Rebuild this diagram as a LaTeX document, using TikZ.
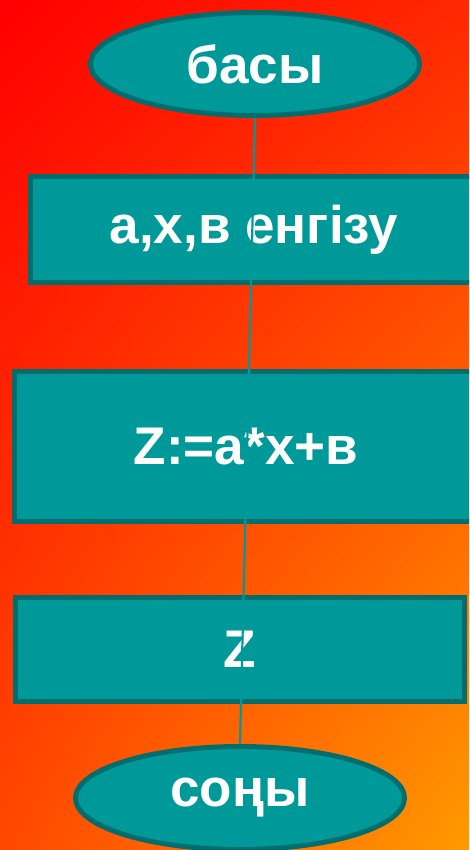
\documentclass[tikz,border=0pt]{standalone}
\usepackage{fontspec}
\setmainfont{Liberation Sans}
\usetikzlibrary{shapes.geometric,shadings}
\definecolor{tealfill}{HTML}{009999}
\definecolor{tealedge}{HTML}{006E6E}
\definecolor{bgA}{HTML}{FF0000}
\definecolor{bgB}{HTML}{FF2800}
\definecolor{bgC}{HTML}{FF4800}
\definecolor{bgD}{HTML}{FF9A00}
\tikzset{
  flowbox/.style={draw=tealedge, fill=tealfill, line width=5pt, rectangle, inner sep=0pt,
    text=white, font=\fontsize{53}{62}\selectfont\bfseries},
  termbox/.style={flowbox, ellipse},
  link/.style={draw=tealfill, line width=2.2pt}
}
\begin{document}
\begin{tikzpicture}[x=1pt,y=-1pt]
\useasboundingbox (0,0) rectangle (469,850);
\clip (0,0) rectangle (469,850);
\shade[upper left=bgA, upper right=bgB, lower left=bgC, lower right=bgD] (0,0) rectangle (469,850);
\node[termbox, minimum width=329pt, minimum height=103pt] (start) at (255,64) {басы};
\node[flowbox, minimum width=447pt, minimum height=106pt] (input) at (254,229.5) {а,х,в енгізу};
\node[flowbox, minimum width=463pt, minimum height=150pt] (calc) at (246,446.5) {Z:=a*x+в};
\node[flowbox, minimum width=449pt, minimum height=104pt] (out) at (240,649.5) {Z};
\node[termbox, minimum width=329pt, minimum height=103pt] (stop) at (240,798) {соңы};
\draw[link] (start.south) -- (stop.north);
\end{tikzpicture}
\end{document}
